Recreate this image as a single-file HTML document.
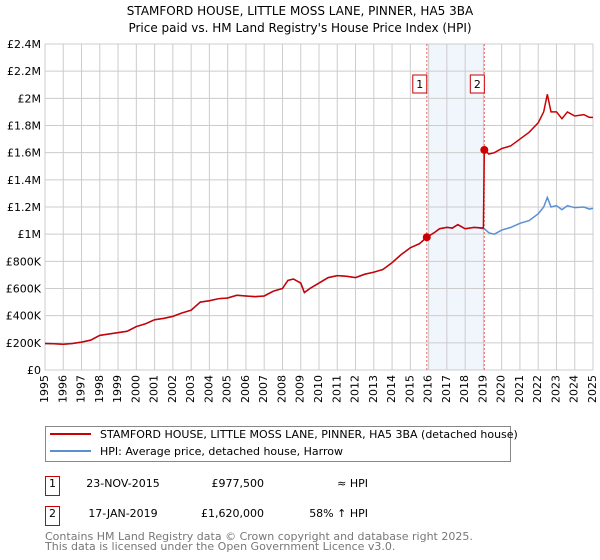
<!DOCTYPE html>
<html><head><meta charset="utf-8"><style>
body{margin:0;background:#fff;font-family:"Liberation Sans","DejaVu Sans",sans-serif}
svg text{font-family:"DejaVu Sans","Liberation Sans",sans-serif}
#wrap{position:relative;width:600px;height:560px}
#c{position:absolute;left:0;top:0}
.xl{position:absolute;width:14px;height:40px;line-height:14px;font-size:11px;text-align:end;writing-mode:sideways-lr;font-family:"DejaVu Sans","Liberation Sans",sans-serif;white-space:nowrap}
</style></head><body>
<div id="wrap">
<svg id="c" width="600" height="560" xmlns="http://www.w3.org/2000/svg">
<text x="300" y="15" text-anchor="middle" font-size="12">STAMFORD HOUSE, LITTLE MOSS LANE, PINNER, HA5 3BA</text>
<text x="300" y="32" text-anchor="middle" font-size="12">Price paid vs. HM Land Registry's House Price Index (HPI)</text>
<g id="grid"></g>
<g id="plot"></g>
<rect x="45.5" y="426.5" width="465" height="35" fill="#fff" stroke="#888"/>
<line x1="50" y1="434" x2="91" y2="434" stroke="#cc0000" stroke-width="2"/>
<text x="100" y="438" font-size="11">STAMFORD HOUSE, LITTLE MOSS LANE, PINNER, HA5 3BA (detached house)</text>
<line x1="50" y1="451" x2="91" y2="451" stroke="#5b8fd4" stroke-width="2"/>
<text x="100" y="455" font-size="11">HPI: Average price, detached house, Harrow</text>
<g font-size="11">
<rect x="45.5" y="476.5" width="14" height="19" fill="#fff" stroke="#cc0000"/>
<text x="52.5" y="487" text-anchor="middle">1</text>
<text x="123" y="487" text-anchor="middle">23-NOV-2015</text>
<text x="264" y="487" text-anchor="end">£977,500</text>
<text x="368" y="487" text-anchor="end">≈ HPI</text>
<rect x="45.5" y="506.5" width="14" height="19" fill="#fff" stroke="#cc0000"/>
<text x="52.5" y="517" text-anchor="middle">2</text>
<text x="123" y="517" text-anchor="middle">17-JAN-2019</text>
<text x="264" y="517" text-anchor="end">£1,620,000</text>
<text x="368" y="517" text-anchor="end">58% ↑ HPI</text>
</g>
<text x="45" y="540" font-size="11" fill="#777">Contains HM Land Registry data © Crown copyright and database right 2025.</text>
<text x="45" y="550" font-size="11" fill="#777">This data is licensed under the Open Government Licence v3.0.</text>
</svg>
</div>
<script>
const years=[1995,1996,1997,1998,1999,2000,2001,2002,2003,2004,2005,2006,2007,2008,2009,2010,2011,2012,2013,2014,2015,2016,2017,2018,2019,2020,2021,2022,2023,2024,2025];
const yTicks=[0,200,400,600,800,1000,1200,1400,1600,1800,2000,2200,2400];
const yLabels=["£0","£200K","£400K","£600K","£800K","£1M","£1.2M","£1.4M","£1.6M","£1.8M","£2M","£2.2M","£2.4M"];
const hpiT=[1995,1995.5,1996,1996.5,1997,1997.5,1998,1998.5,1999,1999.5,2000,2000.5,2001,2001.5,2002,2002.5,2003,2003.5,2004,2004.5,2005,2005.5,2006,2006.5,2007,2007.5,2008,2008.3,2008.6,2009,2009.2,2009.5,2010,2010.5,2011,2011.5,2012,2012.5,2013,2013.5,2014,2014.5,2015,2015.5,2015.9,2016.3,2016.6,2017,2017.3,2017.6,2018,2018.5,2019.05,2019.3,2019.6,2020,2020.5,2021,2021.5,2022,2022.3,2022.5,2022.7,2023,2023.3,2023.6,2024,2024.5,2024.8,2025];
const hpiV=[195,193,190,195,205,220,255,265,275,285,320,340,370,380,395,420,440,500,510,525,530,550,545,540,545,580,600,660,670,640,570,600,640,680,695,690,680,705,720,740,790,850,900,930,977.5,1010,1040,1050,1045,1070,1040,1050,1040,1010,1000,1030,1050,1080,1100,1150,1200,1270,1200,1210,1180,1210,1195,1200,1185,1190];
const redT=[1995,1995.5,1996,1996.5,1997,1997.5,1998,1998.5,1999,1999.5,2000,2000.5,2001,2001.5,2002,2002.5,2003,2003.5,2004,2004.5,2005,2005.5,2006,2006.5,2007,2007.5,2008,2008.3,2008.6,2009,2009.2,2009.5,2010,2010.5,2011,2011.5,2012,2012.5,2013,2013.5,2014,2014.5,2015,2015.5,2015.9,2016.3,2016.6,2017,2017.3,2017.6,2018,2018.5,2019,2019.05,2019.3,2019.6,2020,2020.5,2021,2021.5,2022,2022.3,2022.5,2022.7,2023,2023.3,2023.6,2024,2024.5,2024.8,2025];
const redV=[195,193,190,195,205,220,255,265,275,285,320,340,370,380,395,420,440,500,510,525,530,550,545,540,545,580,600,660,670,640,570,600,640,680,695,690,680,705,720,740,790,850,900,930,977.5,1010,1040,1050,1045,1070,1040,1050,1045,1620,1590,1600,1630,1650,1700,1750,1820,1900,2030,1900,1900,1850,1900,1870,1880,1860,1860];
const saleT=[2015.9,2019.05];
const saleV=[977.5,1620];
const X0=45,X1=593,Y0=370,Y1=44;
const xs=t=>X0+(t-1995)/30*(X1-X0);
const ys=v=>Y0-v/2400*(Y0-Y1);
const NS="http://www.w3.org/2000/svg";
function mk(tag,attrs,parent){const e=document.createElementNS(NS,tag);for(const k in attrs)e.setAttribute(k,attrs[k]);parent.appendChild(e);return e;}
const g=document.getElementById('grid'),p=document.getElementById('plot'),wrap=document.getElementById('wrap');
mk('rect',{x:X0,y:Y1,width:X1-X0,height:Y0-Y1,fill:'#fff'},g);
const band=mk('rect',{x:xs(saleT[0]),y:Y1,width:xs(saleT[1])-xs(saleT[0]),height:Y0-Y1,fill:'#eef2fb',opacity:0.8},g);


years.forEach(y=>{
 const l=mk('line',{x1:xs(y),x2:xs(y),y1:Y1,y2:Y0,stroke:'#ccc'},g);
 
 
 const d=document.createElement('div');
 d.className='xl';
 d.textContent=y;
 d.style.left=(xs(y)-7)+'px';
 d.style.top=(Y0+5)+'px';
 
 
 wrap.appendChild(d);
});
yTicks.forEach((v,i)=>{
 const l=mk('line',{x1:X0,x2:X1,y1:ys(v),y2:ys(v),stroke:'#ccc'},g);
 
 
 const t=mk('text',{x:X0-4,y:ys(v)+4,'font-size':11,'text-anchor':'end'},g);
 t.textContent=yLabels[i];
 
 
});
saleT.forEach((s,i)=>{
 const l=mk('line',{x1:xs(s),x2:xs(s),y1:Y1,y2:Y0,stroke:'#e66','stroke-dasharray':'2,2'},p);
 
 
 const r=mk('rect',{x:xs(s)-14,y:75,width:14,height:18,fill:'#fff',stroke:'#cc0000'},p);
 
 
 const t=mk('text',{x:xs(s)-7,y:88,'font-size':11,'text-anchor':'middle'},p);
 t.textContent=String(i+1);
 
 
});
const hp=mk('polyline',{points:hpiT.map((t,i)=>xs(t)+','+ys(hpiV[i])).join(' '),fill:'none',stroke:'#5b8fd4','stroke-width':1.5},p);


const rp=mk('polyline',{points:redT.map((t,i)=>xs(t)+','+ys(redV[i])).join(' '),fill:'none',stroke:'#cc0000','stroke-width':1.5},p);


saleT.forEach((s,i)=>{
 const c=mk('circle',{cx:xs(s),cy:ys(saleV[i]),r:4,fill:'#cc0000'},p);
 
 
});
</script>
</body></html>
